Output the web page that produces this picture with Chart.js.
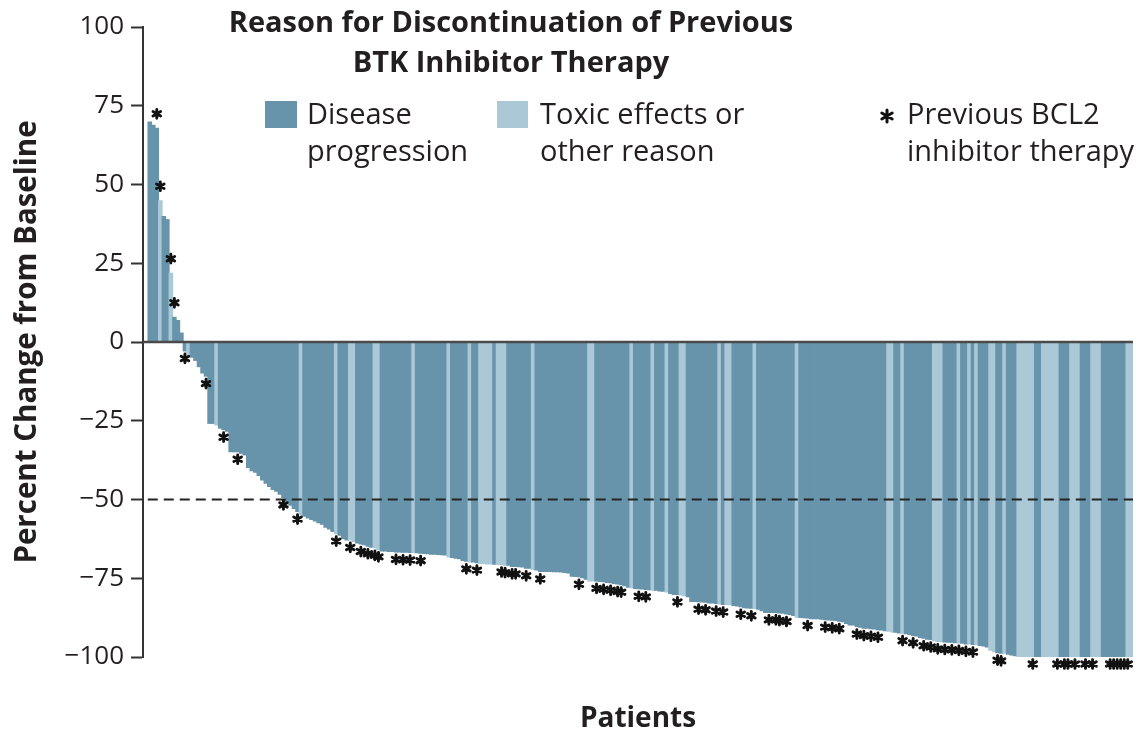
<!DOCTYPE html>
<html>
<head>
<meta charset="utf-8">
<script src="https://cdn.jsdelivr.net/npm/chart.js@4.4.0/dist/chart.umd.min.js"></script>
<style>
  html, body { margin: 0; padding: 0; background: #fff; }
</style>
</head>
<body>
<canvas id="waterfall" width="1137" height="738"></canvas>
<script>
// best percent change from baseline, one bar per patient (sorted)
let change = [
  70, 69, 68, 45, 40, 39, 22, 8, 7, 3,
  -3, -4, -5, -6, -8, -10, -11, -26, -26, -26.5,
  -27.5, -28, -28.5, -35, -35, -35, -35.5, -36, -40, -41,
  -41.5, -42.5, -44, -45, -46, -47, -47.5, -48.5, -49.5, -51,
  -52, -53, -54, -55, -55.5, -56, -56.5, -57, -57.5, -58,
  -59, -59.5, -60.3, -61, -61.5, -62.5, -63, -63, -63.5, -64,
  -64.3, -64.5, -65, -65.3, -65.5, -66, -66.5, -66.5, -66.7, -66.7,
  -66.8, -66.8, -66.9, -66.9, -67, -67, -67.1, -67.2, -67.3, -67.4,
  -67.5, -67.5, -67.6, -67.7, -67.8, -68.4, -68.6, -68.8, -69, -69.5,
  -69.8, -70, -70, -70.2, -70.5, -70.5, -70.6, -70.6, -70.7, -70.8,
  -70.8, -71, -71, -71.4, -71.4, -71.5, -71.6, -72, -72, -72.4,
  -72.5, -73, -73, -73, -73, -73.1, -73.1, -73.2, -73.3, -73.5,
  -74.5, -74.6, -74.7, -75, -75.5, -76, -76, -76, -76.2, -76.3,
  -76.5, -76.6, -76.8, -77, -77.2, -77.5, -78, -78.2, -78.4, -78.5,
  -78.6, -78.7, -78.8, -79, -79, -79.2, -79.3, -79.5, -80, -80.3,
  -80.3, -80.5, -80.7, -81, -82.5, -82.5, -82.6, -82.7, -82.8, -83,
  -83, -83.2, -83.3, -83.5, -83.5, -83.6, -83.8, -84, -84.2, -84.5,
  -84.6, -84.7, -84.8, -85, -85.5, -86, -86, -86, -86, -86.2,
  -86.3, -86.5, -86.7, -87, -87.5, -87.6, -87.7, -87.8, -88, -88,
  -88, -88.2, -88.3, -88.4, -88.5, -88.6, -88.8, -89, -89.5, -90,
  -90, -90.5, -90.7, -91, -91, -91.2, -91.3, -91.5, -91.6, -91.8,
  -92, -92.2, -92.3, -92.5, -92.6, -92.8, -93, -93.3, -93.5, -94,
  -94.2, -94.5, -94.6, -95, -95.2, -95.3, -95.4, -95.5, -95.5, -95.6,
  -95.7, -95.8, -96, -96, -96.2, -96.3, -96.5, -96.7, -97, -98,
  -98.5, -98.8, -99, -99, -99.3, -99.5, -99.8, -100, -100, -100,
  -100, -100, -100, -100, -100, -100, -100, -100, -100, -100,
  -100, -100, -100, -100, -100, -100, -100, -100, -100, -100,
  -100, -100, -100, -100, -100, -100, -100, -100, -100, -100
]

// patients (bar index) who stopped the BTK inhibitor for toxic effects or other reason
let toxicPatients = [3, 6, 11, 19, 43, 53, 57, 58, 64, 65, 75, 85, 91, 94, 95, 96, 97, 99, 100, 101,
  109, 125, 126, 137, 143, 147, 151, 152, 162, 164, 165, 172, 184, 210, 211, 214, 223, 224, 225,
  230, 233, 235, 239, 240, 243, 247, 248, 249, 250, 251, 254, 255, 256, 257, 258, 262, 263, 264,
  268, 269, 270, 278, 279]

// patients with previous BCL2 inhibitor therapy (asterisk)
let bcl2Patients = [2, 3, 6, 7, 10, 16, 21, 25, 38, 42, 53, 57, 60, 62, 64, 65, 70, 72, 74, 77,
  90, 93, 100, 101, 103, 104, 107, 111, 122, 127, 129, 131, 133, 134, 139, 141, 150, 156, 158,
  161, 163, 168, 171, 176, 178, 179, 181, 187, 192, 194, 196, 201, 203, 205, 207, 214, 217, 220,
  222, 224, 226, 228, 230, 232, 234, 241, 242, 251, 258, 260, 261, 263, 266, 268, 273, 274, 275,
  276, 277, 278]

let yTicks = [100, 75, 50, 25, 0, -25, -50, -75, -100]
let responseLine = -50
let titleLines = ['Reason for Discontinuation of Previous', 'BTK Inhibitor Therapy']
let legendLabels = [['Disease', 'progression'], ['Toxic effects or', 'other reason'], ['Previous BCL2', 'inhibitor therapy']]

const DARK = '#6894ab'
const LIGHT = '#abc8d7'
const INK = '#231f20'
const FONT = '"Open Sans", Lato, sans-serif'

function drawAsterisk(ctx, x, y, r, w) {
  ctx.save()
  ctx.strokeStyle = '#111'
  ctx.lineWidth = w
  ctx.lineCap = 'round'
  ctx.beginPath()
  for (let k = 0; k < 3; k++) {
    let a = Math.PI / 2 + k * Math.PI / 3
    ctx.moveTo(x + r * Math.cos(a), y + r * Math.sin(a))
    ctx.lineTo(x - r * Math.cos(a), y - r * Math.sin(a))
  }
  ctx.stroke()
  ctx.restore()
}

let overlay = {
  id: 'overlay',
  afterDatasetsDraw(chart) {
    let ctx = chart.ctx
    let area = chart.chartArea
    let y = chart.scales.y
    let meta = chart.getDatasetMeta(0)

    // zero line
    ctx.save()
    ctx.strokeStyle = '#4a4a4a'
    ctx.lineWidth = 2.5
    ctx.beginPath()
    ctx.moveTo(area.left, y.getPixelForValue(0))
    ctx.lineTo(area.right, y.getPixelForValue(0))
    ctx.stroke()

    // 50% reduction line
    ctx.strokeStyle = '#222'
    ctx.lineWidth = 2
    ctx.setLineDash([10, 6])
    ctx.beginPath()
    ctx.moveTo(meta.data[0].x - 2, y.getPixelForValue(responseLine))
    ctx.lineTo(area.right, y.getPixelForValue(responseLine))
    ctx.stroke()
    ctx.restore()

    bcl2Patients.forEach(i => {
      let bar = meta.data[i]
      let sy = change[i] >= 0 ? bar.y - 14 : bar.y + 7
      drawAsterisk(ctx, bar.x, sy, 4.4, 2.9)
    })
  },
  afterDraw(chart) {
    let ctx = chart.ctx
    ctx.save()
    ctx.fillStyle = INK
    ctx.textBaseline = 'middle'
    ctx.textAlign = 'center'
    ctx.font = 'bold 29px ' + FONT
    ctx.fillText(titleLines[0], 511, 24)
    ctx.fillText(titleLines[1], 511, 64)

    ctx.fillStyle = DARK
    ctx.fillRect(265, 101, 32, 27)
    ctx.fillStyle = LIGHT
    ctx.fillRect(497, 101, 31, 27)
    drawAsterisk(ctx, 887, 116, 6, 3)

    ctx.fillStyle = INK
    ctx.textAlign = 'left'
    ctx.font = '29px ' + FONT
    let xs = [307, 540, 907]
    legendLabels.forEach((lines, k) => {
      ctx.fillText(lines[0], xs[k], 116)
      ctx.fillText(lines[1], xs[k], 153)
    })
    ctx.restore()
  }
}

let points = change.map((v, i) => ({ x: i, y: v }))
let colors = change.map((v, i) => toxicPatients.includes(i) ? LIGHT : DARK)

new Chart(document.getElementById('waterfall'), {
  type: 'bar',
  data: {
    datasets: [{
      data: points,
      backgroundColor: colors,
      borderWidth: 0,
      barPercentage: 1.3,
      categoryPercentage: 1
    }]
  },
  options: {
    responsive: false,
    animation: false,
    devicePixelRatio: 1,
    layout: { padding: { top: 27, right: 4, bottom: 0, left: 0 } },
    plugins: {
      legend: { display: false },
      tooltip: { enabled: false }
    },
    scales: {
      x: {
        type: 'linear',
        offset: false,
        min: -1.92,
        max: change.length - 0.5,
        ticks: { display: false },
        grid: { display: false },
        border: { display: false },
        title: {
          display: true,
          text: 'Patients',
          color: INK,
          font: { family: FONT, size: 28, weight: 'bold' },
          padding: { top: 0, bottom: 2 }
        },
        afterFit: s => { s.height = 81 }
      },
      y: {
        min: -100,
        max: 100,
        afterBuildTicks: s => { s.ticks = yTicks.map(v => ({ value: v })) },
        ticks: {
          color: INK,
          padding: 7,
          font: { family: FONT, size: 26 },
          callback: v => String(v).replace('-', '\u2212')
        },
        grid: { drawOnChartArea: false, tickLength: 12, tickColor: '#333', tickWidth: 2 },
        border: { color: '#333', width: 2 },
        title: {
          display: true,
          text: 'Percent Change from Baseline',
          color: INK,
          font: { family: FONT, size: 29.5, weight: 'bold' },
          padding: { top: 10, bottom: 0 }
        },
        afterFit: s => { s.width = 143 }
      }
    }
  },
  plugins: [overlay]
})
</script>
</body>
</html>
